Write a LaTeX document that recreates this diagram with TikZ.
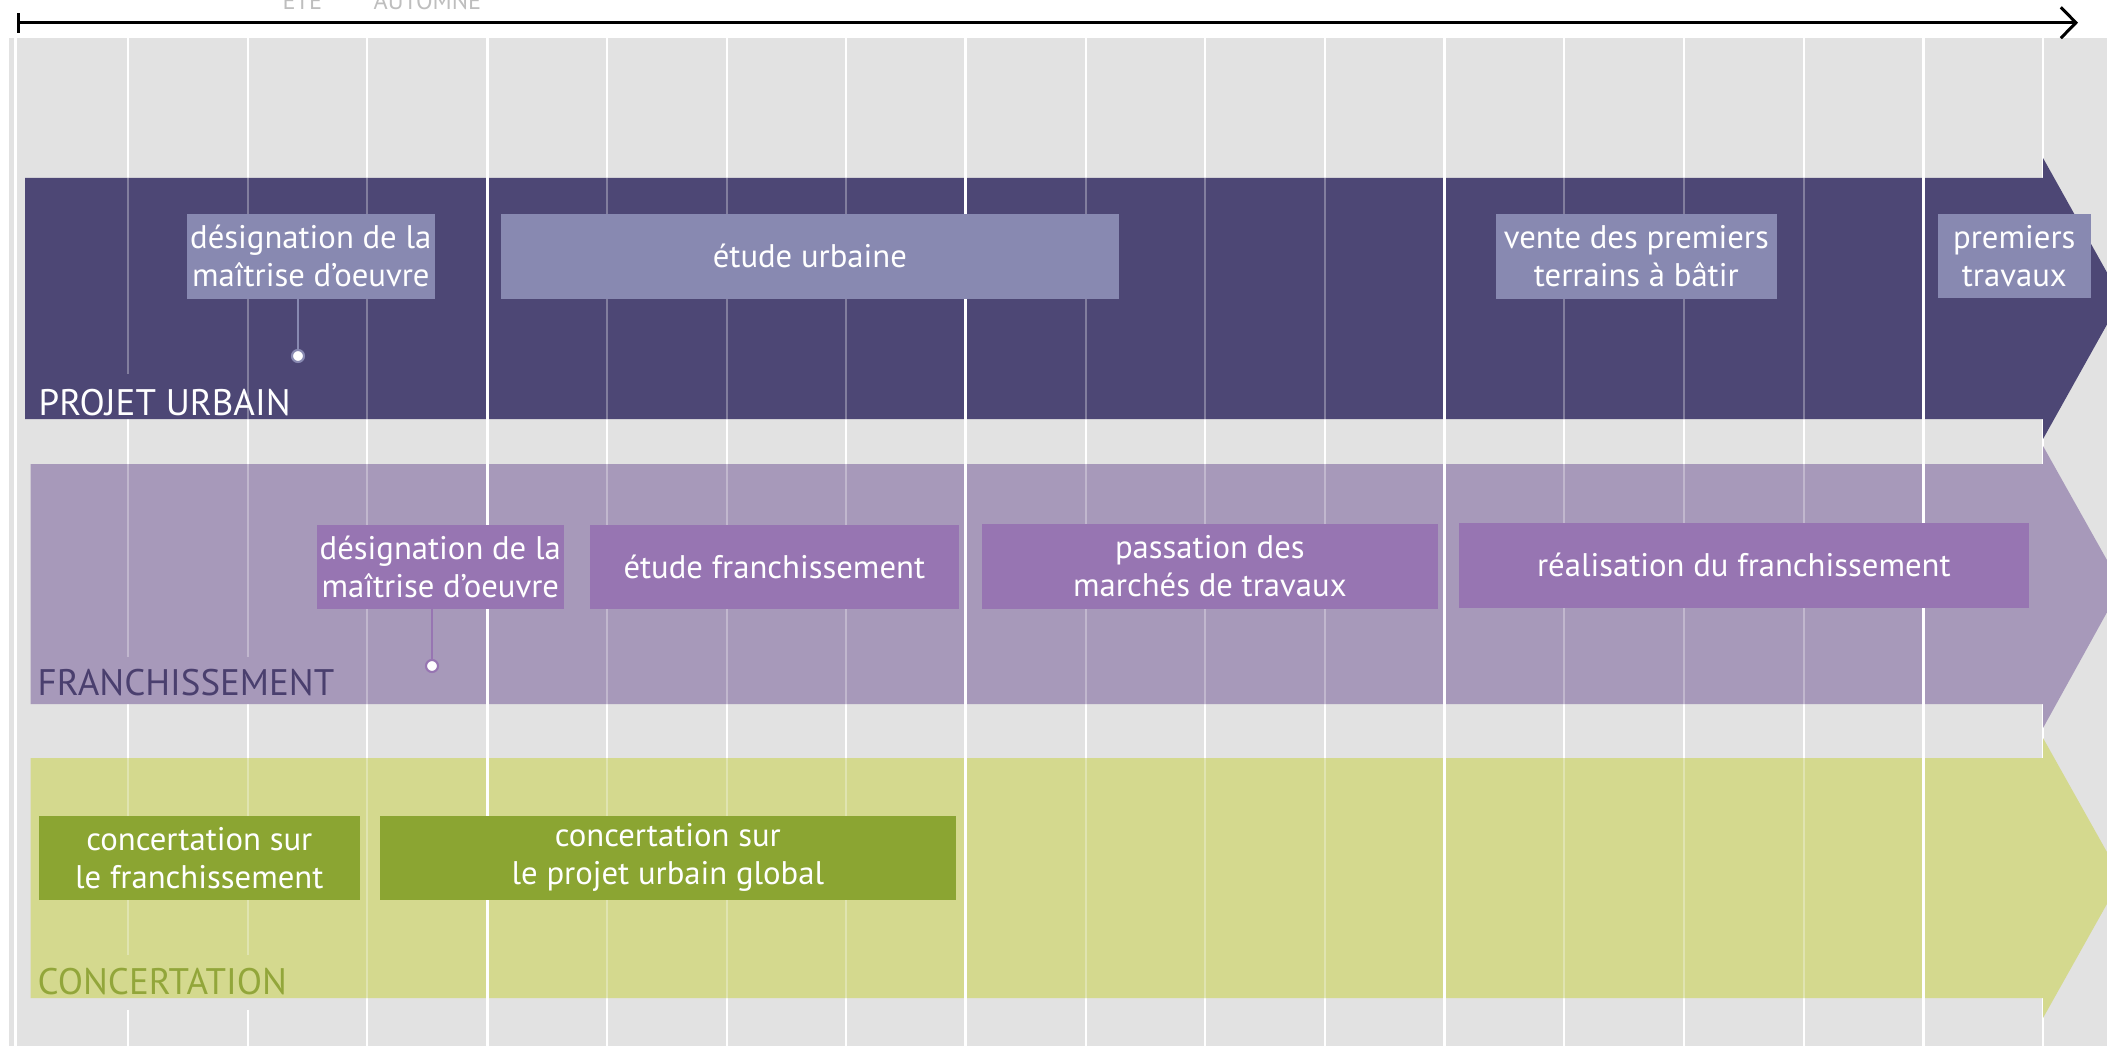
\documentclass[tikz,border=0pt]{standalone}
\usepackage{fontspec}
\setmainfont{PT Sans}
\usetikzlibrary{arrows.meta}
\definecolor{bggrey}{RGB}{226,226,226}
\definecolor{pubar}{RGB}{77,71,117}
\definecolor{pubox}{RGB}{136,137,177}
\definecolor{fbar}{RGB}{167,153,186}
\definecolor{fbox}{RGB}{151,117,178}
\definecolor{flabel}{RGB}{74,63,110}
\definecolor{cbar}{RGB}{212,217,142}
\definecolor{cbox}{RGB}{139,165,50}
\definecolor{clabel}{RGB}{146,166,58}
\definecolor{toplabel}{RGB}{190,190,190}
\newcommand{\boxfont}{\fontsize{9.3pt}{10.8pt}\selectfont}
\newcommand{\lblfont}{\fontsize{10.5pt}{12pt}\selectfont}
\newcommand{\topfont}{\fontsize{6.9pt}{8pt}\selectfont}
\tikzset{
  gridthin/.style={draw=white, line width=0.57pt},
  gridyear/.style={draw=white, line width=0.85pt},
  gridfaint/.style={draw=white, draw opacity=0.3, line width=0.57pt},
  tbox/.style={anchor=north west, inner sep=0pt, align=center, text=white, font=\boxfont},
  puboxst/.style={tbox, fill=pubox},
  fboxst/.style={tbox, fill=fbox},
  cboxst/.style={tbox, fill=cbox},
  lbl/.style={anchor=base west, inner sep=0pt, font=\lblfont},
  toplbl/.style={anchor=base west, inner sep=0pt, font=\topfont, text=toplabel},
  dotst/.style={circle, fill=white, inner sep=0pt, minimum size=0.12cm, line width=0.6pt}
}
\begin{document}
\begin{tikzpicture}[x=0.01cm, y=-0.01cm]
\useasboundingbox (0,0) rectangle (2107,1046);
\clip (0,0) rectangle (2107,1046);
% background
\fill[bggrey] (9,38) rectangle (2107,1046);
\draw[white, line width=0.85pt] (15.5,38) -- (15.5,1046);
% grid lines in grey region
\foreach \k in {2,...,16} {
  \pgfmathsetmacro\xk{128+119.7*\k}
  \draw[gridthin] (\xk,38) -- (\xk,1046);
}
\foreach \k in {0,1} {
  \pgfmathsetmacro\xk{128+119.7*\k}
  \draw[gridthin] (\xk,38) -- (\xk,178) (\xk,419) -- (\xk,464) (\xk,704) -- (\xk,758) (\xk,1010) -- (\xk,1046);
}
% bars with chevrons
\fill[pubar] (25,178) -- (2043,178) -- (2043,158) -- (2121.5,298.5) -- (2043,439) -- (2043,419) -- (25,419) -- cycle;
\fill[fbar] (30.5,464) -- (2043,464) -- (2043,446) -- (2121.5,586) -- (2043,728) -- (2043,704) -- (30.5,704) -- cycle;
\fill[cbar] (30.5,758) -- (2043,758) -- (2043,738) -- (2121.5,878) -- (2043,1018) -- (2043,998) -- (30.5,998) -- cycle;
% faint grid lines over bars
\foreach \k in {2,4,5,6,8,9,10,12,13,14} {
  \pgfmathsetmacro\xk{128+119.7*\k}
  \draw[gridfaint] (\xk,178) -- (\xk,419) (\xk,464) -- (\xk,704) (\xk,758) -- (\xk,998);
}
\draw[gridfaint] (128,178) -- (128,374) (128,464) -- (128,657) (128,758) -- (128,955);
\draw[gridfaint] (247.7,178) -- (247.7,419) (247.7,464) -- (247.7,657) (247.7,758) -- (247.7,955);
% year lines
\foreach \k in {3,7,11,15} {
  \pgfmathsetmacro\xk{128+119.7*\k}
  \draw[gridyear] (\xk,38) -- (\xk,1046);
}
% timeline
\coordinate (tl0) at (17,22.7);
\coordinate (tl1) at (2078,22.7);
\draw[line width=0.85pt, {Bar[width=5.7pt]}-{Straight Barb[length=4.3pt,width=8.8pt]}] (tl0) -- (tl1);
\node[toplbl] (ete) at (282,10) {ETE};
\node[toplbl] (automne) at (373,10) {AUTOMNE};
% projet urbain boxes
\node[puboxst, minimum width=2.48cm, minimum height=0.85cm] (pu1) at (186,213) {désignation de la\\maîtrise d’oeuvre};
\node[puboxst, minimum width=6.18cm, minimum height=0.85cm] (pu2) at (500,213) {étude urbaine};
\node[puboxst, minimum width=2.81cm, minimum height=0.85cm] (pu3) at (1495,213) {vente des premiers\\terrains à bâtir};
\node[puboxst, minimum width=1.53cm, minimum height=0.84cm] (pu4) at (1937,213) {premiers\\travaux};
% franchissement boxes
\node[fboxst, minimum width=2.47cm, minimum height=0.84cm] (f1) at (316,524) {désignation de la\\maîtrise d’oeuvre};
\node[fboxst, minimum width=3.69cm, minimum height=0.84cm] (f2) at (589,524) {étude franchissement};
\node[fboxst, minimum width=4.56cm, minimum height=0.85cm] (f3) at (981,523) {passation des\\marchés de travaux};
\node[fboxst, minimum width=5.70cm, minimum height=0.85cm] (f4) at (1458,522) {réalisation du franchissement};
% concertation boxes
\node[cboxst, minimum width=3.21cm, minimum height=0.84cm] (c1) at (38,815) {concertation sur\\le franchissement};
\node[cboxst, minimum width=5.76cm, minimum height=0.84cm] (c2) at (379,815) {concertation sur\\le projet urbain global};
% connectors
\node[dotst, draw=pubox] (dot1) at (298,356) {};
\draw[pubox, line width=0.55pt] (pu1.south -| dot1) -- (dot1.north);
\node[dotst, draw=fbox] (dot2) at (432,666) {};
\draw[fbox, line width=0.55pt] (f1.south -| dot2) -- (dot2.north);
% row labels
\node[lbl, text=white] (lpu) at (38,415) {PROJET URBAIN};
\node[lbl, text=flabel] (lf) at (37,695) {FRANCHISSEMENT};
\node[lbl, text=clabel] (lc) at (37,994) {CONCERTATION};
\end{tikzpicture}
\end{document}
